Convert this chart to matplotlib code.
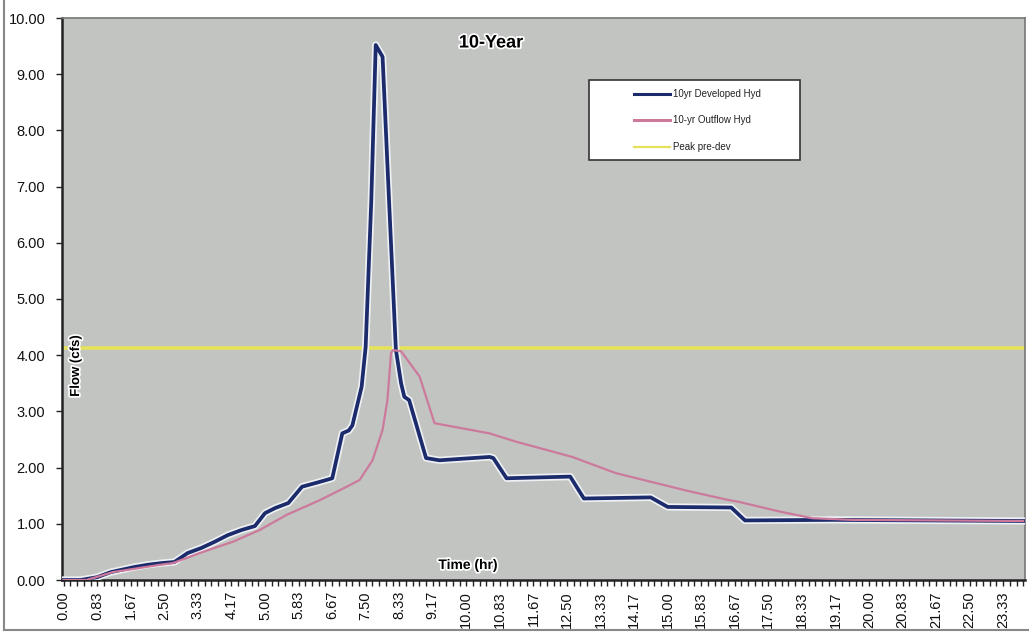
import matplotlib
matplotlib.use("Agg")
import matplotlib.pyplot as plt
import matplotlib.patheffects as pe
from matplotlib.lines import Line2D
from matplotlib.patches import Rectangle

# ---- hydrograph data (time in hr, flow in cfs) ----
developed_t = [0.00, 0.42, 0.83, 1.17, 1.75, 2.08, 2.42, 2.75, 3.08, 3.42, 3.75,
               4.08, 4.42, 4.75, 5.00, 5.25, 5.58, 5.92, 6.33, 6.67, 6.92, 7.08,
               7.17, 7.40, 7.50, 7.64, 7.75, 7.92, 8.08, 8.25, 8.38, 8.46, 8.58,
               9.00, 9.33, 10.58, 10.67, 11.00, 12.58, 12.92, 14.58, 15.00,
               16.58, 16.92, 19.08, 23.83]
developed_q = [0.00, 0.00, 0.05, 0.14, 0.23, 0.27, 0.30, 0.32, 0.48, 0.57, 0.68,
               0.80, 0.89, 0.96, 1.19, 1.28, 1.37, 1.66, 1.74, 1.81, 2.61, 2.66,
               2.75, 3.44, 4.15, 6.76, 9.52, 9.31, 6.76, 4.10, 3.50, 3.26, 3.20,
               2.17, 2.13, 2.19, 2.17, 1.81, 1.84, 1.45, 1.47, 1.30,
               1.29, 1.06, 1.07, 1.05]

outflow_t = [0.00, 0.57, 1.22, 2.39, 2.71, 3.38, 4.20, 4.87, 5.54, 6.36, 7.03,
             7.35, 7.67, 7.92, 8.04, 8.13, 8.18, 8.38, 8.84, 9.21, 10.57, 11.24,
             12.63, 13.72, 15.53, 16.53, 16.77, 17.77, 18.59, 19.58, 23.83]
outflow_q = [0.00, 0.00, 0.14, 0.27, 0.30, 0.48, 0.68, 0.89, 1.16, 1.42, 1.66,
             1.78, 2.13, 2.67, 3.20, 4.04, 4.09, 4.07, 3.62, 2.79, 2.61, 2.46,
             2.19, 1.90, 1.58, 1.42, 1.39, 1.22, 1.10, 1.07, 1.05]

peak_predev = 4.12

x_tick_labels = ["0.00", "0.83", "1.67", "2.50", "3.33", "4.17", "5.00", "5.83",
                 "6.67", "7.50", "8.33", "9.17", "10.00", "10.83", "11.67",
                 "12.50", "13.33", "14.17", "15.00", "15.83", "16.67", "17.50",
                 "18.33", "19.17", "20.00", "20.83", "21.67", "22.50", "23.33"]
y_tick_labels = ["0.00", "1.00", "2.00", "3.00", "4.00", "5.00", "6.00",
                 "7.00", "8.00", "9.00", "10.00"]

series_labels = ["10yr Developed Hyd", "10-yr Outflow Hyd", "Peak pre-dev"]
title_text = "10-Year"

# ---- styling ----
W, H = 1029, 634
plt.rcParams["font.family"] = ["Liberation Sans", "DejaVu Sans"]
fig = plt.figure(figsize=(W / 100, H / 100), dpi=100)
fig.patch.set_facecolor("white")


def fx(px):
    return px / W


def fy(py):
    return 1 - py / H


ax = fig.add_axes([fx(62), fy(580), fx(1025) - fx(62), fy(18) - fy(580)])
ax.set_facecolor("#c2c4c2")

step = 1 / 12
ax.set_xlim(-step / 2, 23.875)
ax.set_ylim(0, 10)

blue = "#1c2b6b"
pink = "#cc7a9c"
yellow = "#e6e25a"

halo = [pe.Stroke(linewidth=5.2, foreground="#eef1f3", joinstyle="round"),
        pe.Normal()]
ax.plot(developed_t, developed_q, color=blue, lw=2.7, zorder=3,
        path_effects=halo, solid_joinstyle="round")
ax.plot(outflow_t, outflow_q, color=pink, lw=1.6, zorder=4)
ax.axhline(peak_predev, color=yellow, lw=2.6, zorder=2)

# axes ticks
major_x = [i * 10 * step for i in range(len(x_tick_labels))]
ax.set_xticks(major_x)
ax.set_xticklabels(x_tick_labels, rotation=90, fontsize=10.5, color="#111111")
ax.set_xticks([i * 2 * step for i in range(144)], minor=True)
ax.tick_params(axis="x", which="both", direction="out", length=4, width=1,
               color="#222222", pad=4)
ax.set_yticks(range(11))
ax.set_yticklabels(y_tick_labels, fontsize=10.5, color="#111111")
ax.tick_params(axis="y", direction="out", length=4, width=1, color="#222222",
               pad=8)

for side in ("left", "bottom"):
    ax.spines[side].set_color("#222222")
    ax.spines[side].set_linewidth(1.8)
for side in ("top", "right"):
    ax.spines[side].set_color("#777777")
    ax.spines[side].set_linewidth(1.2)

text_halo = [pe.Stroke(linewidth=2.5, foreground="white"), pe.Normal()]
fig.text(fx(491), fy(43), title_text, fontsize=13, fontweight="bold",
         ha="center", va="center", path_effects=text_halo)
fig.text(fx(76), fy(366), "Flow (cfs)", fontsize=9.5, fontweight="bold",
         rotation=90, ha="center", va="center", path_effects=text_halo)
fig.text(fx(468), fy(565), "Time (hr)", fontsize=10, fontweight="bold",
         ha="center", va="center", path_effects=text_halo)

# legend box
fig.add_artist(Rectangle((fx(589), fy(160)), fx(800) - fx(589),
                         fy(80) - fy(160), transform=fig.transFigure,
                         facecolor="white", edgecolor="#333333", lw=1.2,
                         zorder=10))
for label, color, lw, py in zip(series_labels, [blue, pink, yellow],
                                [2.2, 2.2, 1.6], [94, 120, 147]):
    fig.add_artist(Line2D([fx(634), fx(670)], [fy(py), fy(py)],
                          transform=fig.transFigure, color=color, lw=lw,
                          zorder=11))
    fig.text(fx(673), fy(py), label, fontsize=7, ha="left", va="center",
             color="#222222", zorder=12)

# outer chart border
fig.add_artist(Line2D([fx(4), fx(4)], [fy(0), fy(630)],
                      transform=fig.transFigure, color="#888888", lw=1.5))
fig.add_artist(Line2D([fx(4), fx(1029)], [fy(630), fy(630)],
                      transform=fig.transFigure, color="#888888", lw=1.5))

fig.savefig("out.png", dpi=100)
